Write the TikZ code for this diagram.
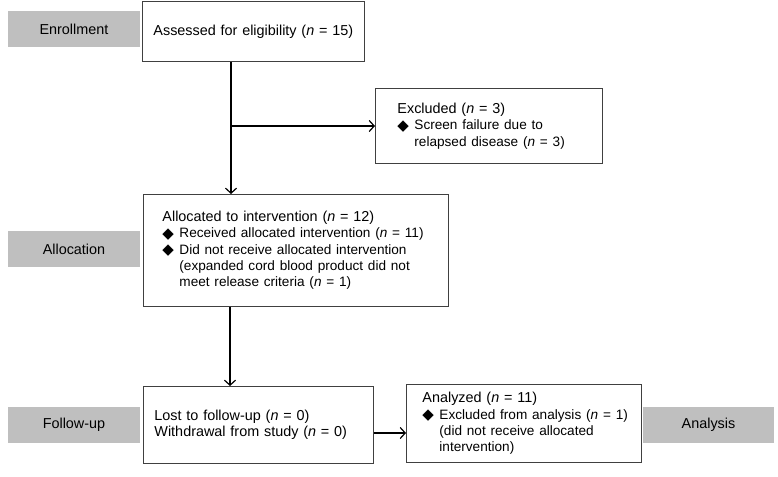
\documentclass[tikz,border=0pt]{standalone}
\usepackage{fontspec}
\setmainfont{Liberation Sans}
\newfontfamily\dejavu{DejaVu Sans}
\usetikzlibrary{arrows.meta,positioning}
\newcommand{\bulletdia}{\makebox[17pt][l]{\raisebox{-0.5pt}{\dejavu\fontsize{15}{15}\selectfont ◆}}}
\newcommand{\indentdia}{\hspace*{17pt}}
\newcommand{\itemfont}{\fontsize{13.6}{16.3}\selectfont}
\newcommand{\nn}{\textit{n}}

\begin{document}
\begin{tikzpicture}[x=1pt, y=-1pt,
    every node/.style={font=\fontsize{14.4}{16.3}\selectfont},
    stage/.style={fill=gray!50, minimum width=132pt, minimum height=36pt, inner sep=0pt},
    box/.style={draw=black!75, line width=0.9pt, anchor=north west, align=left, inner ysep=0pt},
    arr/.style={-{Straight Barb[length=5pt,width=11pt]}, line width=1.2pt}]
    \useasboundingbox (0,0) rectangle (778,476);

    % stages on the left / right
    \node[stage] (enroll) at (74,29) {Enrollment};
    \node[stage] (allocation) at (74,249) {Allocation};
    \node[stage] (followup) at (74,425) {Follow-up};
    \node[stage, minimum width=131pt] (analysis) at (708.5,424.5) {Analysis};

    % boxes
    \node[box, inner xsep=11pt, text width=200pt, minimum height=60pt] (assess) at (142,1)
        {Assessed for eligibility (\nn{} = 15)};
    \node[box, inner xsep=22pt, text width=183pt, minimum height=75pt] (excluded) at (375,88)
        {Excluded (\nn{} = 3)\\\itemfont\bulletdia Screen failure due to\\\indentdia relapsed disease~(\nn{}~=~3)};
    \node[box, inner xsep=19pt, text width=267pt, minimum height=112pt] (alloc) at (143,194)
        {Allocated to intervention (\nn{} = 12)\\\itemfont\bulletdia Received allocated intervention~(\nn{}~=~11)\\\bulletdia Did not receive allocated intervention\\\indentdia(expanded cord blood product did not\\\indentdia meet release criteria~(\nn{}~=~1)};
    \node[box, inner xsep=11pt, text width=208pt, minimum height=77pt] (lost) at (143,386)
        {Lost to follow-up (\nn{} = 0)\\Withdrawal from study (\nn{} = 0)};
    \node[box, inner xsep=16pt, text width=203pt, minimum height=78pt] (analyzed) at (406,384)
        {Analyzed (\nn{} = 11)\\\itemfont\mbox{\bulletdia Excluded from analysis (\nn{} = 1)}\\\indentdia(did not receive allocated\\\indentdia intervention)};

    \coordinate (split) at (231,126);
    \coordinate (down) at (230,350);
    \coordinate (across) at (380,433);

    \draw[line width=1.2pt] (assess.south -| split) -- (split);
    \draw (split) edge[arr] (excluded.west |- split);
    \draw (split) edge[arr] (alloc.north -| split);
    \draw (alloc.south -| down) edge[arr] (lost.north -| down);
    \draw (lost.east |- across) edge[arr] (analyzed.west |- across);
\end{tikzpicture}
\end{document}
